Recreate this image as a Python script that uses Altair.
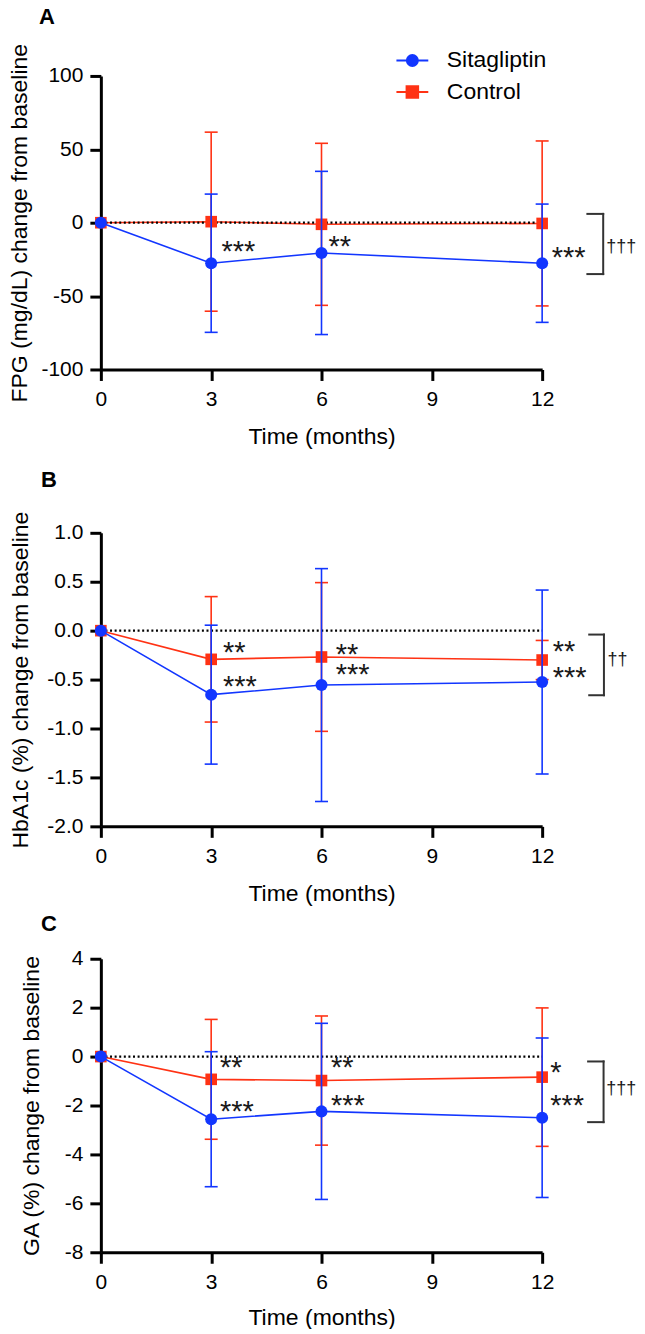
import altair as alt
import pandas as pd

FONT = "Liberation Sans"

# ---------------- data ----------------
MONTHS = [0, 3, 6, 12]
X_TICKS = [0, 3, 6, 9, 12]
GROUPS = ["Sitagliptin", "Control"]

# Panel A: FPG (mg/dL)
FPG_SITA_MEAN = [0, -27.6, -20.6, -27.6]
FPG_SITA_SD = [0, 47.1, 55.6, 40.3]
FPG_CTRL_MEAN = [0, 0.7, -1.1, -0.5]
FPG_CTRL_SD = [0, 61.0, 55.2, 56.2]
FPG_STAR_X = [3.28, 6.19, 12.26]
FPG_STAR_Y = [-16.7, -13.0, -20.6]
FPG_STAR_TEXT = ["***", "**", "***"]
FPG_BRACKET = [13.23, 13.66, 6.0, -35.0]
FPG_DAGGER = [13.74, -16.5, "†††"]
FPG_TICKS = [-100, -50, 0, 50, 100]

# Panel B: HbA1c (%)
HBA_SITA_MEAN = [0, -0.654, -0.556, -0.525]
HBA_SITA_SD = [0, 0.71, 1.19, 0.94]
HBA_CTRL_MEAN = [0, -0.293, -0.269, -0.30]
HBA_CTRL_SD = [0, 0.641, 0.76, 0.20]
HBA_STAR_X = [3.32, 3.32, 6.39, 6.39, 12.29, 12.29]
HBA_STAR_Y = [-0.177, -0.52, -0.194, -0.405, -0.17, -0.433]
HBA_STAR_TEXT = ["**", "***", "**", "***", "**", "***"]
HBA_BRACKET = [13.28, 13.68, -0.04, -0.66]
HBA_DAGGER = [13.78, -0.30, "††"]
HBA_TICKS = [-2.0, -1.5, -1.0, -0.5, 0.0, 0.5, 1.0]

# Panel C: GA (%)
GA_SITA_MEAN = [0, -2.56, -2.24, -2.50]
GA_SITA_SD = [0, 2.76, 3.60, 3.26]
GA_CTRL_MEAN = [0, -0.93, -0.98, -0.84]
GA_CTRL_SD = [0, 2.45, 2.64, 2.83]
GA_STAR_X = [3.24, 3.24, 6.26, 6.26, 12.22, 12.22]
GA_STAR_Y = [-0.25, -2.08, -0.25, -1.81, -0.45, -1.81]
GA_STAR_TEXT = ["**", "***", "**", "***", "*", "***"]
GA_BRACKET = [13.25, 13.67, -0.2, -2.68]
GA_DAGGER = [13.74, -1.34, "†††"]
GA_TICKS = [-8, -6, -4, -2, 0, 2, 4]

# ---------------- styles ----------------
BLUE = "#1236ff"
RED = "#ff3214"
COLORS = [BLUE, RED]
LEGEND_PATHS = [
    "M-2.9,0H2.9M-1,0A1,1 0 1,0 1,0A1,1 0 1,0 -1,0Z",
    "M-2.9,0H2.9M-1.05,-1.05H1.05V1.05H-1.05Z",
]
AXIS_STYLE = dict(labelFontSize=21, titleFontSize=23, tickSize=11, tickWidth=3,
                  domainWidth=3, domainColor="black", tickColor="black",
                  labelColor="black", titleColor="black", titleFontWeight="normal",
                  labelFont=FONT, titleFont=FONT, grid=False, labelFlush=False)


def group_frames(mean, sd):
    df = pd.DataFrame({"month": MONTHS, "mean": mean, "sd": sd})
    df["lo"] = df["mean"] - df["sd"]
    df["hi"] = df["mean"] + df["sd"]
    bars = df[df["sd"] > 0]
    caps = pd.concat([
        pd.DataFrame({"month": bars["month"], "v": bars["lo"]}),
        pd.DataFrame({"month": bars["month"], "v": bars["hi"]}),
    ])
    return df, bars, caps


def make_panel(letter, ytitle, ydomain, yticks, yfmt, tpad, xtpad,
               s_mean, s_sd, c_mean, c_sd,
               star_x, star_y, star_t, bracket, dagger,
               title_offset, title_dx, title_text=None, title_lh=None,
               legend=False):
    xscale = alt.Scale(domain=[0, 12], nice=False, zero=False)
    yscale = alt.Scale(domain=ydomain, nice=False, zero=False)
    xaxis = alt.Axis(values=X_TICKS, title="Time (months)", labelPadding=8,
                     titlePadding=xtpad, format="d", **AXIS_STYLE)
    yaxis = alt.Axis(values=yticks, title=ytitle, labelPadding=7, titlePadding=tpad,
                     labelExpr=f"datum.value < 0 ? '-' + format(-datum.value, '{yfmt}') : format(datum.value, '{yfmt}')",
                     **AXIS_STYLE)

    def X(f):
        return alt.X(f, type="quantitative", scale=xscale, axis=xaxis)

    def Y(f):
        return alt.Y(f, type="quantitative", scale=yscale, axis=yaxis)

    def series(mean, sd, color, shape):
        df, bars, caps = group_frames(mean, sd)
        out = [
            alt.Chart(bars).mark_rule(color=color, strokeWidth=1.6).encode(
                x=X("month"), y=Y("lo"), y2="hi"),
            alt.Chart(df).mark_line(color=color, strokeWidth=1.6).encode(
                x=X("month"), y=Y("mean")),
        ]
        caps_l = alt.Chart(caps).mark_tick(orient="horizontal", size=13, thickness=1.6,
                                           color=color, opacity=1).encode(
            x=X("month"), y=Y("v"))
        if shape == "square":
            pts = alt.Chart(df).mark_square(size=135, color=color, opacity=1).encode(
                x=X("month"), y=Y("mean"))
        else:
            pts = alt.Chart(df).mark_point(shape="circle", filled=True, size=145,
                                           color=color, opacity=1).encode(
                x=X("month"), y=Y("mean"))
        return out, caps_l, pts

    c_out, c_caps, c_pts = series(c_mean, c_sd, RED, "square")
    s_out, s_caps, s_pts = series(s_mean, s_sd, BLUE, "circle")

    zero = alt.Chart(pd.DataFrame({"x": [0], "x2": [12], "y": [0]})).mark_rule(
        color="black", strokeDash=[2, 2.6], strokeWidth=2.2).encode(
        x=X("x"), x2="x2", y=Y("y"))

    layers = c_out + [zero, c_caps, c_pts] + s_out + [s_caps, s_pts]

    stars = pd.DataFrame({"x": star_x, "y": star_y, "t": star_t})
    layers.append(alt.Chart(stars).mark_text(
        align="left", baseline="alphabetic", dy=14, fontSize=29, font=FONT,
        color="#1a1a1a").encode(x=X("x"), y=Y("y"), text="t:N"))

    xl, xr, yt, yb = bracket
    br = pd.DataFrame({"x": [xl, xr, xl], "x2": [xr, xr, xr],
                       "y": [yt, yt, yb], "y2": [yt, yb, yb]})
    layers.append(alt.Chart(br).mark_rule(color="#333333", strokeWidth=2,
                                          strokeCap="square").encode(
        x=X("x"), x2="x2", y=Y("y"), y2="y2"))
    dg = pd.DataFrame({"x": [dagger[0]], "y": [dagger[1]], "t": [dagger[2]]})
    layers.append(alt.Chart(dg).mark_text(
        align="left", baseline="middle", fontSize=18, font=FONT,
        color="#1a1a1a").encode(x=X("x"), y=Y("y"), text="t:N"))

    if legend:
        leg = alt.Legend(title=None, orient="none", legendX=300.5, legendY=-27,
                         labelFontSize=23, labelFont=FONT, labelColor="black",
                         symbolSize=121, symbolStrokeWidth=2, labelOffset=23,
                         rowPadding=7.5)
        ldf = pd.DataFrame({"group": GROUPS, "xx": [0, 0], "yy": [0, 0]})
        cscale = alt.Scale(domain=GROUPS, range=COLORS)
        layers.append(alt.Chart(ldf).transform_filter(alt.datum.group == "none").mark_point(
            filled=True, opacity=1, strokeWidth=2).encode(
            x=X("xx"), y=Y("yy"),
            color=alt.Color("group:N", scale=cscale, legend=leg),
            stroke=alt.Stroke("group:N", scale=cscale, legend=leg),
            shape=alt.Shape("group:N", scale=alt.Scale(domain=GROUPS, range=LEGEND_PATHS),
                            legend=leg)))

    extra = {"lineHeight": title_lh} if title_lh else {}
    ttl = alt.TitleParams(text=title_text if title_text is not None else letter,
                          anchor="start", frame="group", dx=title_dx,
                          offset=title_offset, fontSize=22, fontWeight="bold",
                          font=FONT, color="black", **extra)
    return alt.layer(*layers).properties(width=442, height=294, title=ttl)


panel_a = make_panel("A", "FPG (mg/dL) change from baseline", [-100, 100], FPG_TICKS, "d", 9, 16,
                     FPG_SITA_MEAN, FPG_SITA_SD, FPG_CTRL_MEAN, FPG_CTRL_SD,
                     FPG_STAR_X, FPG_STAR_Y, FPG_STAR_TEXT, FPG_BRACKET, FPG_DAGGER,
                     title_offset=14.5, title_dx=-62, legend=True)
panel_b = make_panel("B", "HbA1c (%) change from baseline", [-2.0, 1.0], HBA_TICKS, ".1f", 14, 16,
                     HBA_SITA_MEAN, HBA_SITA_SD, HBA_CTRL_MEAN, HBA_CTRL_SD,
                     HBA_STAR_X, HBA_STAR_Y, HBA_STAR_TEXT, HBA_BRACKET, HBA_DAGGER,
                     title_offset=19.3, title_dx=-60, title_text=[" ", "B"], title_lh=12)
panel_c = make_panel("C", "GA (%) change from baseline", [-8, 4], GA_TICKS, "d", 21, 14,
                     GA_SITA_MEAN, GA_SITA_SD, GA_CTRL_MEAN, GA_CTRL_SD,
                     GA_STAR_X, GA_STAR_Y, GA_STAR_TEXT, GA_BRACKET, GA_DAGGER,
                     title_offset=11.5, title_dx=-60)

chart = alt.vconcat(panel_a, panel_b, panel_c, spacing=7.6).properties(
    padding={"left": 0, "top": -4, "right": 0, "bottom": -2}
).configure(font=FONT).configure_view(stroke=None).configure_axis(**AXIS_STYLE)

chart.save("out.html", embed_options={"renderer": "svg", "actions": False})
